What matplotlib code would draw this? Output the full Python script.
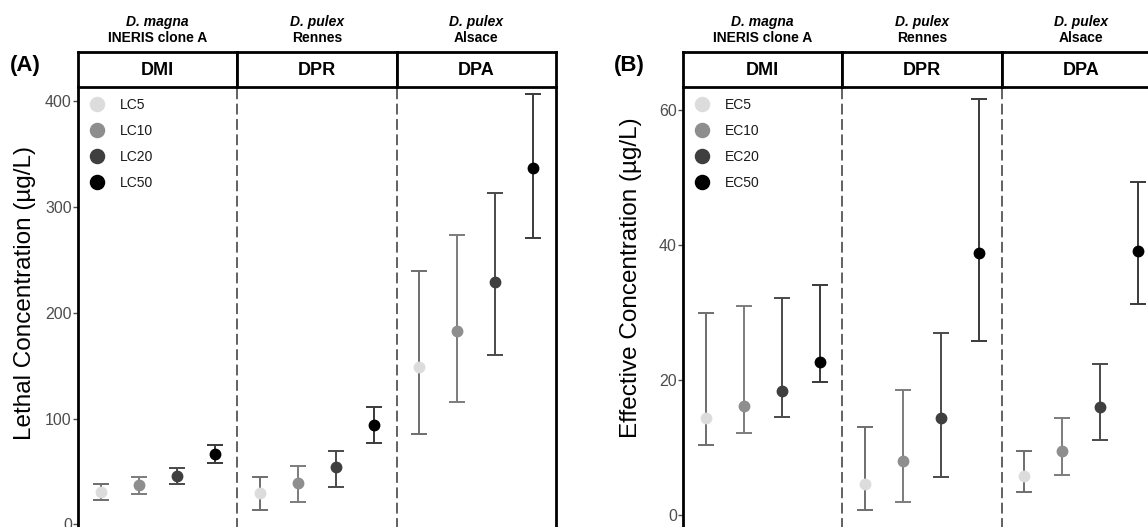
import matplotlib
matplotlib.use('Agg')
import matplotlib.pyplot as plt

plt.rcParams['font.family'] = ['Liberation Sans', 'DejaVu Sans']

FACETS = ['DMI', 'DPR', 'DPA']
SPECIES = ['D. magna', 'D. pulex', 'D. pulex']
STRAINS = ['INERIS clone A', 'Rennes', 'Alsace']

LC_LEVELS = ['LC5', 'LC10', 'LC20', 'LC50']
EC_LEVELS = ['EC5', 'EC10', 'EC20', 'EC50']

# lethal concentrations (ug/L), one list per facet: DMI, DPR, DPA
LC_VALUES = [[30.3, 36.9, 46.0, 66.2],
             [29.3, 39.3, 54.5, 93.9],
             [149.0, 182.8, 228.8, 337.2]]
LC_LOWER = [[22.7, 28.9, 38.1, 57.7],
            [13.5, 21.4, 35.0, 76.6],
            [85.7, 115.9, 160.4, 271.0]]
LC_UPPER = [[38.1, 44.7, 53.5, 75.3],
            [44.4, 55.4, 69.6, 110.6],
            [239.5, 273.6, 313.3, 406.6]]

# effective concentrations (ug/L)
EC_VALUES = [[14.3, 16.1, 18.3, 22.6],
             [4.6, 8.0, 14.3, 38.8],
             [5.8, 9.5, 16.0, 39.1]]
EC_LOWER = [[10.3, 12.1, 14.5, 19.7],
            [0.7, 2.0, 5.6, 25.8],
            [3.4, 6.0, 11.1, 31.2]]
EC_UPPER = [[30.0, 31.0, 32.1, 34.1],
            [13.1, 18.5, 27.0, 61.7],
            [9.5, 14.3, 22.4, 49.3]]

LC_TICKS = [0, 100, 200, 300, 400]
EC_TICKS = [0, 20, 40, 60]

POINT_COLORS = ['#dcdcdc', '#8e8e8e', '#3f3f3f', '#000000']
BAR_COLORS = ['#6e6e6e', '#7c7c7c', '#4a4a4a', '#3a3a3a']

W, H = 1148, 527


def fx(px):
    return px / W


def fy(py):
    return 1 - py / H


def draw_panel(fig, left_px, width_px, ylim, ticks, values, lower, upper,
               levels, ylabel, ylabel_xy, tag, tag_x):
    """
    Draw one faceted panel: three facets side by side with strips on top.
    """
    TOP = 87
    BOTTOM = 540
    STRIP_TOP = 52

    axes = []
    for k, facet in enumerate(FACETS):
        x0 = left_px + k * width_px
        ax = fig.add_axes([fx(x0), fy(BOTTOM), width_px / W,
                           (BOTTOM - TOP) / H])
        ax.set_xlim(0.4, 4.6)
        ax.set_ylim(*ylim)
        ax.set_xticks([])

        for i, level in enumerate(levels):
            v = values[k][i]
            err = [[v - lower[k][i]], [upper[k][i] - v]]
            ax.errorbar(i + 1, v, yerr=err, fmt='none', ecolor=BAR_COLORS[i],
                        elinewidth=1.4, capsize=6, capthick=1.4, zorder=2)
            ax.plot(i + 1, v, 'o', color=POINT_COLORS[i], ms=7.5,
                    label=level, zorder=3)

        ax.spines['top'].set_visible(False)
        ax.spines['bottom'].set_visible(False)
        ax.spines['right'].set_visible(False)
        if k == 0:
            ax.spines['left'].set_linewidth(2)
            ax.spines['left'].set_color('black')
            ax.set_yticks(ticks)
            ax.tick_params(axis='y', labelsize=11.5, colors='#4d4d4d',
                           length=3.5, width=1, pad=1)
            leg = ax.legend(loc='upper left', bbox_to_anchor=(0.0, 1.003),
                            frameon=False, fontsize=10, markerscale=1.35,
                            handlelength=1.0, handletextpad=1.1,
                            labelspacing=0.85)
            for t in leg.get_texts():
                t.set_color('#1a1a1a')
        else:
            ax.spines['left'].set_linestyle((0, (5, 3.5)))
            ax.spines['left'].set_color('#555555')
            ax.spines['left'].set_linewidth(1.3)
            ax.set_yticks([])
        if k == len(FACETS) - 1:
            ax.spines['right'].set_visible(True)
            ax.spines['right'].set_linewidth(2)
            ax.spines['right'].set_color('black')
        axes.append(ax)

        # strip
        sax = fig.add_axes([fx(x0), fy(TOP), width_px / W,
                            (TOP - STRIP_TOP) / H])
        sax.set_xticks([])
        sax.set_yticks([])
        for sp in sax.spines.values():
            sp.set_linewidth(2)
            sp.set_color('black')
        sax.text(0.5, 0.47, facet, ha='center', va='center',
                 fontsize=13, fontweight='bold', transform=sax.transAxes)

        cx = fx(x0 + width_px / 2)
        fig.text(cx, fy(22), SPECIES[k], ha='center', va='center',
                 fontsize=10, fontweight='bold', style='italic')
        fig.text(cx, fy(38.5), STRAINS[k], ha='center', va='center',
                 fontsize=10, fontweight='bold')

    fig.text(fx(ylabel_xy[0]), fy(ylabel_xy[1]), ylabel, rotation=90,
             ha='center', va='center', fontsize=17.5)
    fig.text(fx(tag_x), fy(65), tag, ha='left', va='center',
             fontsize=16, fontweight='bold')
    return axes


fig = plt.figure(figsize=(W / 100, H / 100), dpi=100)

# pixel calibration: y=0 -> 524.3 px, 1.0575 px/unit
draw_panel(fig, 78, 159.3, ((524.3 - 540) / 1.0575, (524.3 - 87) / 1.0575),
           LC_TICKS, LC_VALUES, LC_LOWER, LC_UPPER, LC_LEVELS,
           'Lethal Concentration (µg/L)', (25, 293), '(A)', 10)

# y=0 -> 515 px, 6.75 px/unit
draw_panel(fig, 683, 159.3, ((515 - 540) / 6.75, (515 - 87) / 6.75),
           EC_TICKS, EC_VALUES, EC_LOWER, EC_UPPER, EC_LEVELS,
           'Effective Concentration (µg/L)', (631, 278), '(B)', 614)

fig.savefig('out.png', dpi=100)
